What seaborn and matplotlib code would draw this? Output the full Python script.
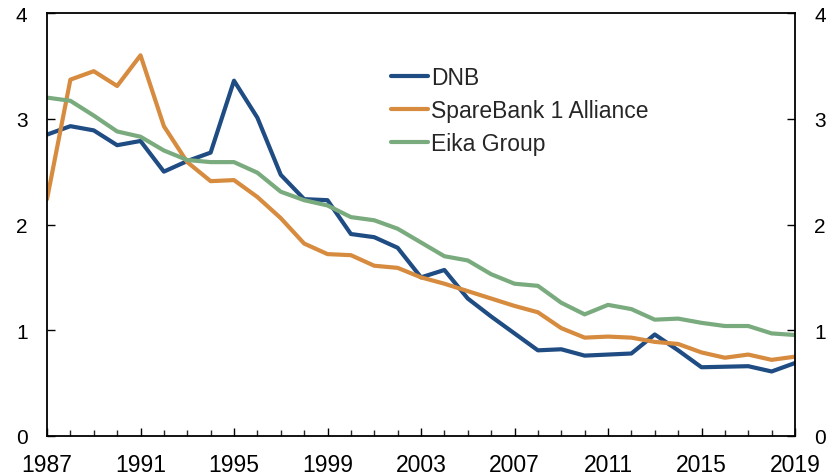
import pandas as pd
import matplotlib.pyplot as plt
import seaborn as sns
from matplotlib.ticker import MultipleLocator

# Data
years = list(range(1987, 2020))
dnb = [2.85, 2.93, 2.89, 2.75, 2.79, 2.50, 2.60, 2.68, 3.36, 3.01, 2.47, 2.24,
       2.23, 1.91, 1.88, 1.78, 1.50, 1.57, 1.30, 1.13, 0.97, 0.81, 0.82, 0.76,
       0.77, 0.78, 0.96, 0.81, 0.65, 0.655, 0.66, 0.61, 0.69]
sparebank = [2.24, 3.37, 3.45, 3.31, 3.60, 2.93, 2.59, 2.41, 2.42, 2.26, 2.06, 1.82,
             1.72, 1.71, 1.61, 1.59, 1.50, 1.44, 1.37, 1.30, 1.23, 1.17, 1.02, 0.93,
             0.94, 0.93, 0.89, 0.87, 0.79, 0.74, 0.77, 0.72, 0.75]
eika = [3.20, 3.17, 3.03, 2.88, 2.83, 2.70, 2.61, 2.59, 2.59, 2.49, 2.31, 2.23,
        2.18, 2.07, 2.04, 1.96, 1.83, 1.70, 1.66, 1.53, 1.44, 1.42, 1.26, 1.15,
        1.24, 1.20, 1.10, 1.11, 1.07, 1.04, 1.04, 0.97, 0.955]
names = ['DNB', 'SpareBank 1 Alliance', 'Eika Group']
colors = ['#1f4c82', '#d68b3e', '#7aab7e']
xtick_years = list(range(1987, 2020, 4))

df = pd.DataFrame({'year': years, names[0]: dnb, names[1]: sparebank, names[2]: eika})
long = df.melt(id_vars='year', var_name='bank', value_name='value')

sns.set_style('white')
plt.rcParams['font.family'] = ['Liberation Sans', 'DejaVu Sans']

fig = plt.figure(figsize=(8.35, 4.77), dpi=100)
ax = fig.add_axes([0.0563, 0.0839, 0.8958, 0.8867])

sns.lineplot(data=long, x='year', y='value', hue='bank', hue_order=names,
             palette=colors, linewidth=3.0, ax=ax)

ax.set_xlim(1987, 2019)
ax.set_ylim(0, 4)
ax.set_xticks(xtick_years)
ax.xaxis.set_minor_locator(MultipleLocator(1))
ax.set_yticks([0, 1, 2, 3, 4])
ax.set_xlabel('')
ax.set_ylabel('')

for s in ax.spines.values():
    s.set_color('black')
    s.set_linewidth(1.3)

ax.tick_params(axis='y', which='major', direction='in', length=6, width=1,
               left=True, right=True, labelleft=True, labelright=True,
               labelsize=15, pad=14, colors='black')
ax.tick_params(axis='x', which='major', direction='in', length=6, width=1,
               bottom=True, labelsize=16.5, pad=12, colors='black')
ax.tick_params(axis='x', which='minor', direction='in', length=4, width=1, bottom=True)
for lab in ax.get_xticklabels():
    lab.set_family(['Liberation Sans Narrow', 'Liberation Sans'])

ax.legend(loc='upper left', bbox_to_anchor=(0.46, 0.875), frameon=False,
          fontsize=16.5, handlelength=1.6, handletextpad=0.15, labelspacing=0.43,
          borderpad=0, borderaxespad=0)

fig.savefig('out.png', dpi=100)
